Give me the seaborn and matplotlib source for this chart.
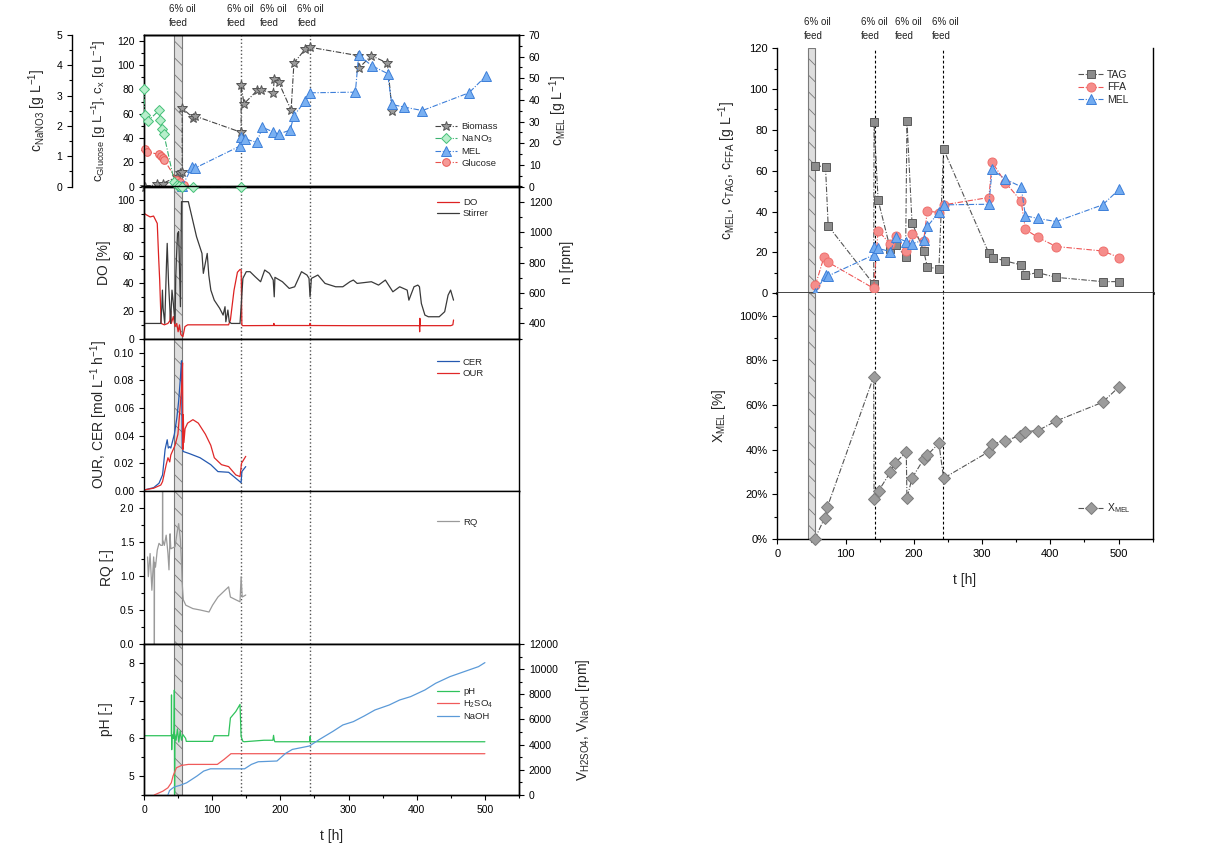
import matplotlib
matplotlib.use("Agg")
import matplotlib.pyplot as plt
import seaborn as sns
from matplotlib.ticker import MultipleLocator, FixedLocator, PercentFormatter

sns.set_theme(style="ticks")
plt.rcParams['font.family'] = ['Liberation Sans', 'DejaVu Sans']
plt.rcParams['mathtext.default'] = 'regular'
plt.rcParams['hatch.linewidth'] = 0.6

# ---------------- data: offline samples (left, top panel) ----------------
t_biomass = [1, 19.4, 27.2, 48.2, 53.4, 56, 56, 71.7, 74.3, 142.4, 142.4, 146.6, 166, 171.2,
             189.5, 191, 197.4, 215.7, 219.9, 236.6, 243.5, 314, 315.2, 333.5, 357, 363.9]
biomass = [0, 1.7, 2.5, 8, 10.8, 12.1, 64.6, 56.8, 58.2, 44.7, 83.9, 68.2, 79.2, 79.7,
           77, 88.9, 86.1, 63, 101.8, 113.4, 114.8, 107.9, 97.7, 107.9, 101.8, 62.4]

t_nano3 = [0, 1, 5.5, 22, 24, 26.5, 29, 44.5, 48, 52, 56, 72, 142.4]
nano3 = [3.22, 2.35, 2.16, 2.51, 2.21, 1.91, 1.74, 0.15, 0.05, 0.02, 0.0, 0.0, 0.0]

t_glucose = [1, 3.7, 22, 24.6, 27.2, 29.8, 48.2, 53.4, 58.6]
glucose = [30.6, 28.7, 26.5, 25.1, 23.2, 21.8, 5.2, 3.9, 1.1]

t_mel = [56, 70.7, 74.6, 141.3, 141.8, 147.7, 165.7, 173.5, 189, 197.4, 214.4, 219.8,
         236.8, 244, 310, 314.8, 334.3, 357.2, 363.5, 381.6, 408.4, 476.6, 501]
mel = [0.3, 9, 8.5, 18.8, 22.9, 22, 20.4, 27.4, 25.3, 24.2, 26.1, 32.7,
       39.7, 43.3, 43.6, 60.7, 55.8, 52.2, 37.9, 36.7, 35.1, 43.3, 50.9]

# ---------------- online signals ----------------
t_do = [0, 3.7, 8.9, 14, 19.4, 21.5, 23.0, 25.1, 29.8, 35, 38, 39, 40, 43, 45.5, 48, 50, 52,
        54, 57, 60, 64, 72, 100, 124, 126.7, 132, 137, 140.8, 142.5, 143.5, 144.5, 190,
        190.5, 191, 243, 243.5, 244, 300, 404, 404.3, 404.6, 405, 450, 453, 454]
do = [90.6, 89.4, 88, 88.6, 83.3, 58, 42, 11, 10, 11, 13, 20, 11, 16, 8.7, 11, 5, 10,
      3, 1.4, 8.7, 10, 10, 10, 10, 13.5, 35, 48, 50, 49.6, 10, 9.4, 9.5,
      11, 9.5, 9.5, 11, 9.5, 9.4, 9.4, 5, 14.7, 9.4, 9.4, 10, 13.5]

t_stir = [0, 24.6, 26, 27, 28, 30.4, 33, 34, 36, 39, 41, 43, 45.5, 46.5, 47.6, 49.2, 50.8,
          53.4, 55, 65, 69, 77, 85, 87, 92.7, 95, 98, 103, 111, 116, 118.8, 120, 123,
          125, 128, 140.8, 143, 145, 150, 155.5, 163, 171, 177, 184, 189.5, 191, 192,
          203, 213, 221, 231, 239, 242, 243.5, 245.5, 255, 265.5, 281, 291.6, 302, 307,
          312.6, 333.5, 344, 354, 365, 375, 386, 388.5, 396, 401.6, 404, 406.8, 412,
          417, 433, 441, 446, 449.7, 454]
stirrer = [400, 400, 500, 619, 500, 400, 800, 926, 663, 400, 619, 531, 400, 700, 838, 992,
           1003, 510, 1200, 1200, 1124, 970, 860, 729, 860, 718, 619, 553, 499, 455, 510,
           411, 488, 411, 400, 400, 553, 696, 740, 740, 707, 674, 751, 729, 685, 575, 703,
           674, 630, 641, 740, 718, 696, 575, 696, 718, 663, 641, 641, 674, 685,
           663, 674, 652, 685, 608, 641, 619, 553, 641, 652, 641, 531, 455,
           444, 444, 477, 586, 619, 553]

t_cer = [0, 14.1, 22, 27.2, 30.9, 34, 35.6, 37.7, 39.3, 44.5, 48.2, 50.8, 53.4, 55, 56,
         57.6, 66.5, 82.2, 97.9, 108.4, 124.1, 134.6, 142.4, 143.5, 149.2]
cer = [0.0007, 0.0024, 0.0056, 0.0116, 0.030, 0.037, 0.031, 0.032, 0.031, 0.041, 0.053,
       0.065, 0.082, 0.094, 0.031, 0.0285, 0.027, 0.024, 0.019, 0.014, 0.0135, 0.0092,
       0.006, 0.014, 0.0176]

t_our = [0, 14.1, 24.6, 27.2, 32.5, 35.1, 37.7, 39.3, 45.5, 49.7, 52.4, 55, 56.5, 57,
         57.6, 58.5, 60.2, 63.9, 71.7, 79.6, 90, 97.9, 103.1, 113.6, 124.1, 134.6, 140.8,
         143, 149.2]
our = [0.0007, 0.002, 0.0043, 0.0068, 0.019, 0.024, 0.021, 0.026, 0.033, 0.041, 0.057,
       0.074, 0.0925, 0.030, 0.055, 0.035, 0.045, 0.049, 0.0515, 0.049, 0.041, 0.033,
       0.024, 0.019, 0.0176, 0.0116, 0.0104, 0.020, 0.025]

t_rq = [5.2, 6.3, 8.9, 11.5, 14.1, 15.0, 15.2, 15.4, 16.8, 19.4, 22, 24.6, 27.0, 27.2, 27.4,
        29.8, 32.5, 35.1, 36.6, 38.2, 39.3, 45.5, 48.2, 50.8, 53.4, 55, 56, 57.6, 61.3,
        71.7, 82.2, 95.3, 100.5, 108.4, 118.8, 124.1, 126.7, 134.6, 140.8, 142.4, 144, 149.2]
rq = [1.28, 0.99, 1.33, 0.79, 1.28, 1.1, 0.0, 1.2, 1.13, 1.38, 1.48, 1.45, 1.45, 2.3, 1.53,
      1.45, 1.6, 1.33, 1.09, 1.62, 1.4, 1.43, 1.62, 1.77, 1.53, 1.18, 0.89, 0.65, 0.57,
      0.52, 0.5, 0.47, 0.57, 0.69, 0.79, 0.84, 0.69, 0.65, 0.62, 0.99, 0.69, 0.72]

t_ph = [0, 40, 40.3, 40.6, 41, 43, 44, 44.5, 44.8, 45.2, 47, 49, 51, 53, 55, 57, 61, 62,
        100.5, 103, 124, 126.7, 134.6, 140.8, 142.4, 145, 147, 176, 189, 190, 191, 192,
        243, 243.5, 244, 500]
ph = [6.07, 6.07, 7.15, 5.7, 6.1, 6.0, 6.2, 7.28, 4.52, 6.1, 5.95, 6.25, 5.9, 6.2, 5.95,
      6.1, 6.0, 5.92, 5.92, 6.07, 6.07, 6.54, 6.71, 6.9, 6.05, 5.92, 5.91, 5.95, 5.95,
      6.08, 5.95, 5.91, 5.91, 6.05, 5.91, 5.91]

t_h2so4 = [15, 27.5, 35, 40, 42.5, 47.5, 55, 65, 107.5, 117.5, 127.5, 500]
h2so4 = [0, 300, 570, 970, 1500, 2160, 2350, 2430, 2430, 2830, 3280, 3280]

t_naoh = [35, 37.5, 42.5, 45, 52.5, 62.5, 77.5, 87.5, 97.5, 147.5, 157.5, 167.5, 195,
          207.5, 217.5, 242.5, 257.5, 277.5, 291.6, 307, 323, 338.7, 359.7, 375, 391,
          412, 427.7, 448.7, 469.6, 490.6, 500]
naoh = [0, 360, 570, 650, 760, 970, 1500, 1900, 2080, 2080, 2430, 2640, 2700, 3300, 3620,
        3890, 4420, 5070, 5563, 5828, 6278, 6755, 7152, 7550, 7815, 8344, 8874, 9404,
        9801, 10199, 10517]

# ---------------- right figure ----------------
t_tag = [56, 70.7, 74.6, 141.3, 141.8, 147.7, 165.7, 173.5, 188, 190, 197.4, 214.4, 219.8,
         236.8, 243.7, 310, 315.8, 334.3, 357.2, 363.5, 381.6, 408.4, 476.6, 501]
tag = [62.4, 62, 33, 4.4, 84, 45.7, 21.6, 23.7, 18, 84.6, 34.6, 20.9, 13, 11.8, 70.5,
       19.6, 17.5, 15.8, 13.9, 9, 10.1, 7.8, 5.7, 5.7]

t_ffa = [56, 68.7, 74.6, 141.3, 147.7, 165.7, 173.5, 189, 197.4, 214.4, 219.8, 236.8, 244,
         310, 314.8, 334.3, 357.2, 363.5, 381.6, 408.4, 476.6, 501]
ffa = [4.1, 18, 15.2, 2.4, 30.7, 24, 28.2, 20.9, 28.9, 25.5, 40.3, 39.5, 43.3, 46.9, 64.2,
       54.2, 45.2, 31.3, 27.4, 22.9, 20.7, 17.5]

t_xmel = [55, 69.7, 73.6, 141.3, 141.8, 148.6, 165.7, 172, 189, 190, 197.4, 214.4, 219.8,
          236.8, 243.7, 310, 314.8, 334.3, 355.7, 363.5, 381.6, 408.4, 476.6, 501]
xmel = [0, 9.6, 14.5, 72.7, 17.9, 21.6, 29.9, 33.9, 38.8, 18.2, 27.2, 35.7, 37.6, 42.8,
        27.2, 39.1, 42.4, 44, 46.3, 48.1, 48.5, 52.8, 61.2, 68.2]
xmel = [v / 100 for v in xmel]

feed_band = (44.5, 55.5)
feed_lines = [142.5, 243.5]
feed_text_left = [37, 122, 170, 225]
feed_text_right = [39, 123, 172, 227]

# ---------------- styling helpers ----------------
DD = (0, (5, 1.5, 1, 1.5))
TICK_FS = 7.5
LAB_FS = 10
LEG_FS = 6.8


def mseries(ax, t, v, lc, fc, ec, marker, ms, label):
    sns.lineplot(x=t, y=v, ax=ax, sort=False, estimator=None, color=lc, lw=0.8,
                 linestyle=DD, marker=marker, markersize=ms, markerfacecolor=fc,
                 markeredgecolor=ec, markeredgewidth=0.7, label=label, legend=False,
                 clip_on=False, zorder=5)


def tseries(ax, t, v, color, label, lw=0.9):
    sns.lineplot(x=t, y=v, ax=ax, sort=False, estimator=None, color=color, lw=lw,
                 label=label, legend=False)


def style_axis(ax, show_x=False, fs=TICK_FS):
    ax.set_xlim(0, 550)
    ax.xaxis.set_major_locator(FixedLocator([0, 100, 200, 300, 400, 500]))
    ax.xaxis.set_minor_locator(MultipleLocator(50))
    ax.tick_params(which='both', direction='out', labelsize=fs, width=0.8,
                   colors='black')
    ax.tick_params(which='major', length=3.5)
    ax.tick_params(which='minor', length=2)
    if not show_x:
        ax.tick_params(axis='x', labelbottom=False)
    for s in ax.spines.values():
        s.set_color('black')
        s.set_linewidth(1.0)
    ax.set_xlabel('')
    ax.set_ylabel('')


def decorate(ax, left=True):
    ax.axvspan(*feed_band, facecolor='#dedede', edgecolor='#7a7a7a', hatch='\\\\',
               lw=0.8, zorder=0.5)
    for xv in feed_lines:
        if left:
            ax.axvline(xv, color='#555555', ls=':', lw=1.0, zorder=0.6)
        else:
            ax.axvline(xv, color='black', ls=(0, (2.5, 2)), lw=0.8, zorder=0.6)


def legend(ax, handles, labels, anchor, fs=LEG_FS):
    ax.legend(handles, labels, loc='upper left', bbox_to_anchor=anchor, frameon=False,
              fontsize=fs, handlelength=2.4, handletextpad=0.4, labelspacing=0.25,
              borderaxespad=0)


fig = plt.figure(figsize=(12.31, 8.6), dpi=100)
fig.patch.set_facecolor('white')

L, W = 0.1170, 0.3046
ax1 = fig.add_axes([L, 0.7831, W, 0.1762])
ax2 = fig.add_axes([L, 0.6062, W, 0.1770])
ax3 = fig.add_axes([L, 0.4291, W, 0.1771])
ax4 = fig.add_axes([L, 0.2512, W, 0.1779])
ax5 = fig.add_axes([L, 0.0756, W, 0.1756])

# ---- panel 1
decorate(ax1)
ax1r = ax1.twinx()
ax1n = ax1.twinx()
mseries(ax1, t_biomass, biomass, '#444444', '#9a9a9a', '#555555', '*', 7.5, 'Biomass')
mseries(ax1n, t_nano3, nano3, '#3cb371', '#b8efcc', '#45c078', 'D', 5, 'NaNO$_3$')
mseries(ax1r, t_mel, mel, '#3d7fd9', '#79b0f2', '#3d7fd9', '^', 6.5, 'MEL')
mseries(ax1, t_glucose, glucose, '#e8504a', '#f59a97', '#ea5a55', 'o', 5.5, 'Glucose')
for a in (ax1, ax1r, ax1n):
    style_axis(a)
ax1.set_ylim(0, 124.9)
ax1.yaxis.set_major_locator(FixedLocator([0, 20, 40, 60, 80, 100, 120]))
ax1.yaxis.set_minor_locator(MultipleLocator(10))
ax1r.set_ylim(0, 70)
ax1r.yaxis.set_major_locator(MultipleLocator(10))
ax1r.yaxis.set_minor_locator(MultipleLocator(5))
ax1n.set_ylim(0, 5)
ax1n.yaxis.set_major_locator(MultipleLocator(1))
ax1n.yaxis.set_minor_locator(MultipleLocator(0.5))
ax1n.spines['left'].set_position(('axes', -0.192))
ax1n.spines['left'].set_visible(True)
ax1n.spines['right'].set_visible(False)
ax1n.yaxis.set_ticks_position('left')
ax1n.yaxis.set_label_position('left')
ax1n.set_ylabel('c$_{NaNO3}$ [g L$^{-1}$]', fontsize=LAB_FS, labelpad=6)
ax1.set_ylabel('c$_{Glucose}$ [g L$^{-1}$], c$_x$ [g L$^{-1}$]', fontsize=LAB_FS - 0.5,
               labelpad=6)
ax1r.set_ylabel('c$_{MEL}$ [g L$^{-1}$]', fontsize=LAB_FS, labelpad=5)
h = []
lb = []
for a in (ax1, ax1n, ax1r):
    hh, ll = a.get_legend_handles_labels()
    h += hh
    lb += ll
order = ['Biomass', 'NaNO$_3$', 'MEL', 'Glucose']
hd = dict(zip(lb, h))
legend(ax1n, [hd[k] for k in order], order, (0.765, 0.45))
for xv in feed_text_left:
    ax1.text(xv, 1.045, '6% oil\nfeed', transform=ax1.get_xaxis_transform(), fontsize=7,
             ha='left', va='bottom', color='#222222', linespacing=1.5)

# ---- panel 2
decorate(ax2)
ax2r = ax2.twinx()
tseries(ax2, t_do, do, '#dd2222', 'DO')
tseries(ax2r, t_stir, stirrer, '#3a3a3a', 'Stirrer')
for a in (ax2, ax2r):
    style_axis(a)
ax2.set_ylim(0, 110)
ax2.yaxis.set_major_locator(FixedLocator([0, 20, 40, 60, 80, 100]))
ax2.yaxis.set_minor_locator(MultipleLocator(10))
ax2r.set_ylim(300, 1300)
ax2r.yaxis.set_major_locator(FixedLocator([400, 600, 800, 1000, 1200]))
ax2r.yaxis.set_minor_locator(MultipleLocator(100))
ax2.set_ylabel('DO [%]', fontsize=LAB_FS, labelpad=4)
ax2r.set_ylabel('n [rpm]', fontsize=LAB_FS, labelpad=6)
h1, l1 = ax2.get_legend_handles_labels()
h2, l2 = ax2r.get_legend_handles_labels()
legend(ax2r, h1 + h2, l1 + l2, (0.77, 0.95))

# ---- panel 3
decorate(ax3)
tseries(ax3, t_cer, cer, '#2458b0', 'CER')
tseries(ax3, t_our, our, '#e02828', 'OUR')
style_axis(ax3)
ax3.set_ylim(0, 0.11)
ax3.yaxis.set_major_locator(FixedLocator([0, 0.02, 0.04, 0.06, 0.08, 0.10]))
ax3.yaxis.set_minor_locator(MultipleLocator(0.01))
ax3.yaxis.set_major_formatter(plt.FormatStrFormatter('%.2f'))
ax3.tick_params(right=False)
ax3.set_ylabel('OUR, CER [mol L$^{-1}$ h$^{-1}$]', fontsize=LAB_FS, labelpad=3)
h3, l3 = ax3.get_legend_handles_labels()
legend(ax3, h3, l3, (0.77, 0.9))

# ---- panel 4
decorate(ax4)
tseries(ax4, t_rq, rq, '#9a9a9a', 'RQ')
style_axis(ax4)
ax4.set_ylim(0, 2.25)
ax4.yaxis.set_major_locator(FixedLocator([0, 0.5, 1.0, 1.5, 2.0]))
ax4.yaxis.set_minor_locator(MultipleLocator(0.25))
ax4.yaxis.set_major_formatter(plt.FormatStrFormatter('%.1f'))
ax4.set_ylabel('RQ [-]', fontsize=LAB_FS, labelpad=4)
h4, l4 = ax4.get_legend_handles_labels()
legend(ax4, h4, l4, (0.77, 0.85))

# ---- panel 5
decorate(ax5)
ax5r = ax5.twinx()
tseries(ax5, t_ph, ph, '#2fc25b', 'pH')
tseries(ax5r, t_h2so4, h2so4, '#f05a5a', 'H$_2$SO$_4$')
tseries(ax5r, t_naoh, naoh, '#5b9ad8', 'NaOH')
for a in (ax5, ax5r):
    style_axis(a, show_x=True)
ax5r.tick_params(axis='x', labelbottom=False)
ax5.set_ylim(4.5, 8.5)
ax5.yaxis.set_major_locator(FixedLocator([5, 6, 7, 8]))
ax5.yaxis.set_minor_locator(MultipleLocator(0.5))
ax5r.set_ylim(0, 12000)
ax5r.yaxis.set_major_locator(MultipleLocator(2000))
ax5r.yaxis.set_minor_locator(MultipleLocator(1000))
ax5.set_ylabel('pH [-]', fontsize=LAB_FS, labelpad=11)
ax5r.set_ylabel('V$_{H2SO4}$, V$_{NaOH}$ [rpm]', fontsize=LAB_FS, labelpad=12)
ax5.set_xlabel('t [h]', fontsize=LAB_FS, labelpad=10)
h5, l5 = ax5.get_legend_handles_labels()
h6, l6 = ax5r.get_legend_handles_labels()
legend(ax5r, h5 + h6, l5 + l6, (0.77, 0.74))

# ---------------- right figure ----------------
RL, RW = 0.6314, 0.3050
axa = fig.add_axes([RL, 0.6590, RW, 0.2849])
axb = fig.add_axes([RL, 0.3733, RW, 0.2857])
decorate(axa, left=False)
decorate(axb, left=False)
mseries(axa, t_tag, tag, '#555555', '#8c8c8c', '#5a5a5a', 's', 6, 'TAG')
mseries(axa, t_ffa, ffa, '#ee5555', '#f58d8b', '#ef6f6c', 'o', 6.5, 'FFA')
mseries(axa, t_mel, mel, '#3d7fd9', '#72abf0', '#3d7fd9', '^', 7, 'MEL')
mseries(axb, t_xmel, xmel, '#555555', '#9c9c9c', '#7a7a7a', 'D', 6, 'X$_{MEL}$')
for a in (axa, axb):
    style_axis(a, show_x=(a is axb), fs=8)
    a.tick_params(right=False)
    a.spines['top'].set_visible(False)
axa.spines['bottom'].set_linewidth(2.0)
axa.spines['bottom'].set_color('#333333')
axa.tick_params(axis='x', which='both', bottom=False)
axa.set_ylim(0, 120)
axa.yaxis.set_major_locator(MultipleLocator(20))
axa.yaxis.set_minor_locator(MultipleLocator(10))
axb.set_ylim(0, 1.1)
axb.yaxis.set_major_locator(FixedLocator([0, 0.2, 0.4, 0.6, 0.8, 1.0]))
axb.yaxis.set_minor_locator(MultipleLocator(0.1))
axb.yaxis.set_major_formatter(PercentFormatter(1.0, decimals=0))
axa.set_ylabel('c$_{MEL}$, c$_{TAG}$, c$_{FFA}$ [g L$^{-1}$]', fontsize=LAB_FS, labelpad=8)
axb.set_ylabel('X$_{MEL}$ [%]', fontsize=LAB_FS, labelpad=8)
axb.set_xlabel('t [h]', fontsize=LAB_FS, labelpad=10)
ha_, la_ = axa.get_legend_handles_labels()
legend(axa, ha_, la_, (0.79, 0.93), fs=7.5)
hb_, lb_ = axb.get_legend_handles_labels()
legend(axb, hb_, lb_, (0.79, 0.17), fs=7.5)
for xv in feed_text_right:
    axa.text(xv, 1.03, '6% oil\nfeed', transform=axa.get_xaxis_transform(), fontsize=7,
             ha='left', va='bottom', color='#222222', linespacing=1.5)

fig.savefig('out.png', dpi=100, facecolor='white')
